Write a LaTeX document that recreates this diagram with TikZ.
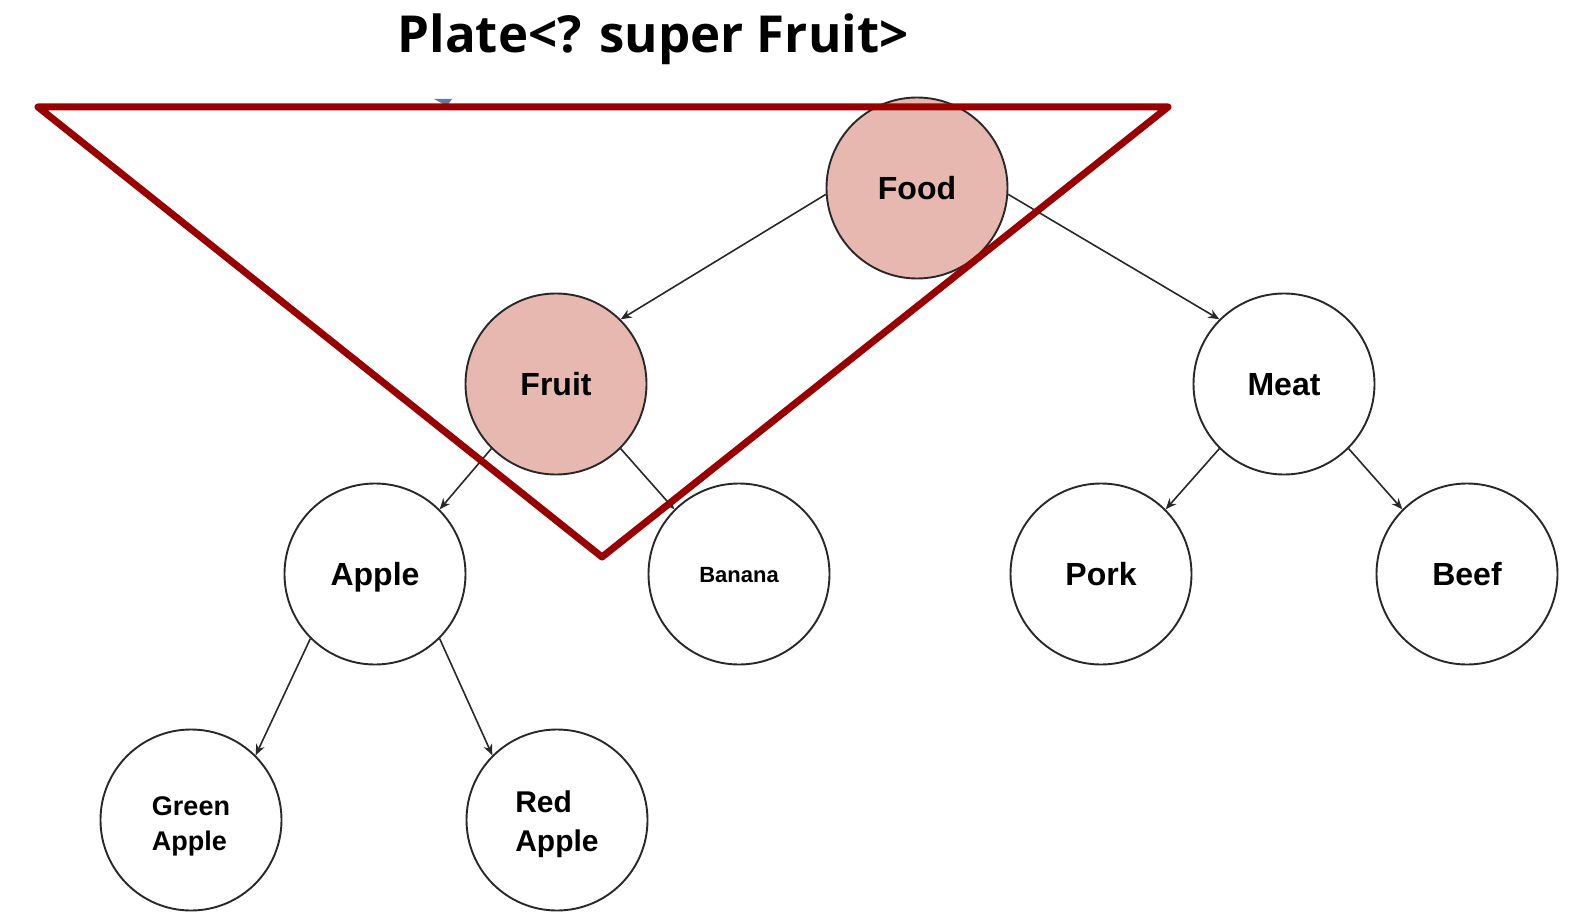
\documentclass[tikz,border=0pt]{standalone}
\usepackage{fontspec}
\setmainfont{Liberation Sans}
\newfontfamily\titlefont{Open Sans}
\usepackage{xcolor}
\usepackage{tikz}
\usetikzlibrary{arrows.meta}
\definecolor{PlateRed}{RGB}{153,0,0}
\definecolor{HitPink}{RGB}{230,184,175}
\definecolor{LineGray}{RGB}{40,40,40}
\definecolor{TipBlue}{RGB}{100,122,150}

\tikzset{
  treebase/.style={circle, draw=LineGray, line width=1.9pt, minimum size=181pt,
    inner sep=0pt, font=\bfseries\fontsize{32}{36}\selectfont},
  tree/.style={treebase, text height=23pt, text depth=0pt},
  hit/.style={tree, fill=HitPink},
  link/.style={draw=LineGray, line width=1.6pt, -{Stealth[length=11pt,width=9pt]}},
}

\begin{document}
\begin{tikzpicture}[x=1pt,y=-1pt]
  \useasboundingbox (0,0) rectangle (1585,920);
  \node[anchor=base, font=\titlefont\bfseries\fontsize{51}{56}\selectfont] (title) at (653,53) {Plate<? super Fruit>};

  \node[hit]  (food)   at (917,188)  {Food};
  \node[hit]  (fruit)  at (556,384)  {Fruit};
  \node[tree] (meat)   at (1284,384) {Meat};
  \node[tree] (apple)  at (375,574)  {Apple};
  \node[tree, text height=16pt, font=\bfseries\fontsize{22}{26}\selectfont] (banana) at (739,574) {Banana};
  \node[tree] (pork)   at (1101,574) {Pork};
  \node[tree] (beef)   at (1467,574) {Beef};
  \node[treebase, align=left, font=\bfseries\fontsize{27}{35}\selectfont] (green) at (191,820) {\rule{0pt}{32pt}Green\\Apple};
  \node[treebase, align=left, font=\bfseries\fontsize{30}{39}\selectfont] (red)   at (557,820) {\rule{0pt}{30pt}Red\\Apple};

  \draw[link] (food.184)        -- (fruit.north east);
  \draw[link] (food.-4)         -- (meat.north west);
  \draw[link] (fruit.south west) -- (apple.north east);
  \draw[link] (fruit.south east) -- (banana.north west);
  \draw[link] (apple.south west) -- (green.north east);
  \draw[link] (apple.south east) -- (red.north west);
  \draw[link] (meat.south west)  -- (pork.north east);
  \draw[link] (meat.south east)  -- (beef.north west);

  \fill[TipBlue] (434,99) -- (452,99) -- (447,106) -- cycle;
  \coordinate (plateL) at (38,107);
  \coordinate (plateR) at (1168,107);
  \coordinate (plateB) at (602,557);
  \draw[PlateRed, line width=7pt, line join=round] (plateL) -- (plateR) -- (plateB) -- cycle;
\end{tikzpicture}
\end{document}
